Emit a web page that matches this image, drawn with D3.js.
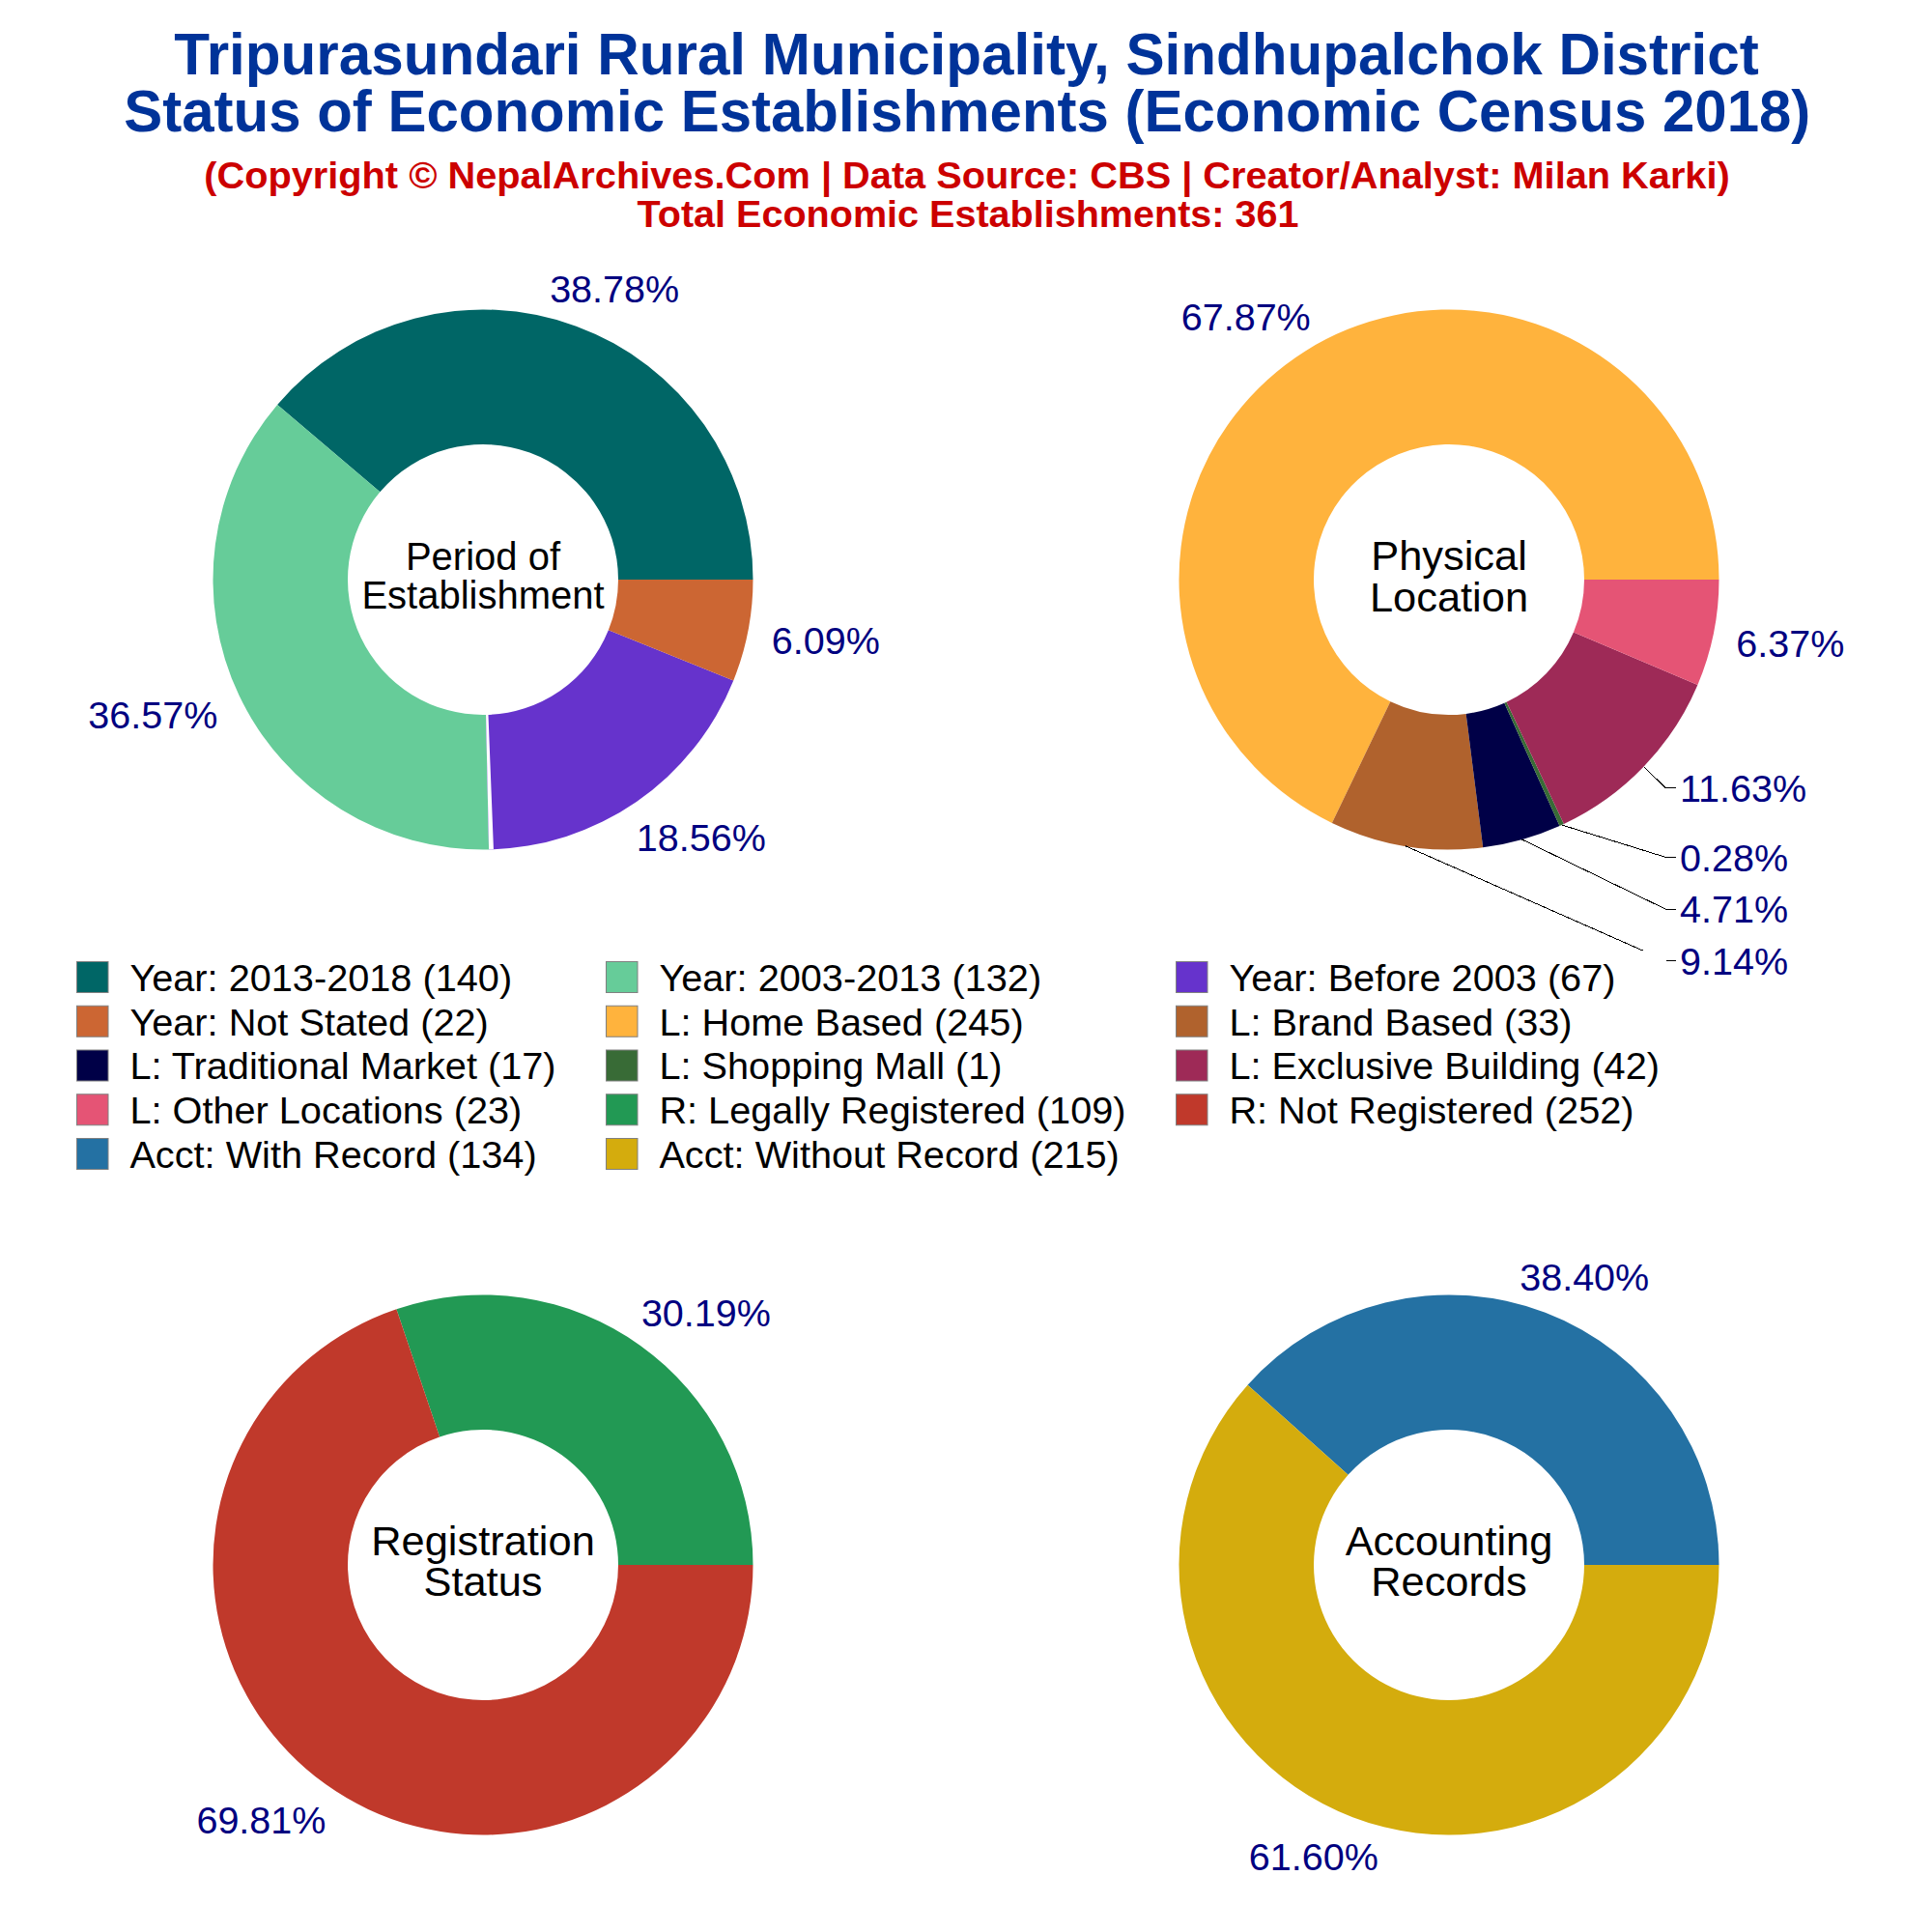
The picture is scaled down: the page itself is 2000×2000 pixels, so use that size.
<!DOCTYPE html>
<html><head><meta charset="utf-8">
<script src="https://cdn.jsdelivr.net/npm/d3@7"></script>
<style>html,body{margin:0;padding:0;background:#fff}svg{display:block}text{font-family:"Liberation Sans",Arial,sans-serif}</style>
</head><body><div id="chart"></div>
<script>
// ---- data ----
const periodCategories = ["Year: 2013-2018","Year: 2003-2013","Year: Before 2003","Year: Not Stated"];
const periodValues = [140,132,67,22];
const periodColors = ["#006666","#66CC99","#6633CC","#CC6633"];
const locationCategories = ["L: Home Based","L: Brand Based","L: Traditional Market","L: Shopping Mall","L: Exclusive Building","L: Other Locations"];
const locationValues = [245,33,17,1,42,23];
const locationColors = ["#FFB33D","#B0622D","#000047","#386B36","#9E2A57","#E55475"];
const registrationCategories = ["R: Legally Registered","R: Not Registered"];
const registrationValues = [109,252];
const registrationColors = ["#229954","#C0392B"];
const accountCategories = ["Acct: With Record","Acct: Without Record"];
const accountValues = [134,215];
const accountColors = ["#2471A3","#D4AC0D"];
const titleLines = ["Tripurasundari Rural Municipality, Sindhupalchok District","Status of Economic Establishments (Economic Census 2018)"];
const subtitleLines = ["(Copyright \u00A9 NepalArchives.Com | Data Source: CBS | Creator/Analyst: Milan Karki)","Total Economic Establishments: 361"];

// ---- layout ----
const W = 2000, H = 2000, R = 279.5, r0 = 140;
const panels = [
 {cats:periodCategories, vals:periodValues, cols:periodColors, cx:500, cy:600, center:["Period of","Establishment"], fs:40, base:[590,630],
  nudge:[[30,-13],[-64,8],[51,14],[53,4]], gapAfter:1},
 {cats:locationCategories, vals:locationValues, cols:locationColors, cx:1500, cy:600, center:["Physical","Location"], fs:43.4, base:[590,632.5],
  nudge:[[-46.6,-11.5],null,null,null,null,[52,5]], leaders:{1:994.3,2:941,3:887.3,4:815.3}},
 {cats:registrationCategories, vals:registrationValues, cols:registrationColors, cx:500, cy:1620, center:["Registration","Status"], fs:43.4, base:[1610,1652],
  nudge:[[51.7,-11.5],[-50.4,14]]},
 {cats:accountCategories, vals:accountValues, cols:accountColors, cx:1500, cy:1620, center:["Accounting","Records"], fs:43.4, base:[1610,1652],
  nudge:[[30.6,-11.3],[-30.6,15]]}
];
const svg = d3.select("#chart").append("svg").attr("width",W).attr("height",H).attr("viewBox",`0 0 ${W} ${H}`);
svg.append("rect").attr("width",W).attr("height",H).attr("fill","#fff");

// titles
const titleFit = [{x:1000.5,y:76.7,len:1640.5},{x:1001.3,y:136,len:1746}];
const subFit = [{x:1001,y:195.3,len:1579.5},{x:1002,y:234.5,len:685}];
svg.selectAll(".t").data(titleLines).join("text").attr("class","t")
 .attr("x",(d,i)=>titleFit[i].x).attr("y",(d,i)=>titleFit[i].y)
 .attr("textLength",(d,i)=>titleFit[i].len).attr("lengthAdjust","spacingAndGlyphs")
 .attr("text-anchor","middle").attr("font-size",60.3).attr("font-weight","bold").attr("fill","#003399").text(d=>d);
svg.selectAll(".s").data(subtitleLines).join("text").attr("class","s")
 .attr("x",(d,i)=>subFit[i].x).attr("y",(d,i)=>subFit[i].y)
 .attr("textLength",(d,i)=>subFit[i].len).attr("lengthAdjust","spacingAndGlyphs")
 .attr("text-anchor","middle").attr("font-size",39.7).attr("font-weight","bold").attr("fill","#CC0000").text(d=>d);

// donuts
const pie = d3.pie().sort(null).startAngle(Math.PI/2).endAngle(Math.PI/2-2*Math.PI);
const arc = d3.arc().innerRadius(r0).outerRadius(R);
const LBL = "#000080";
panels.forEach(p=>{
 const g = svg.append("g").attr("transform",`translate(${p.cx},${p.cy})`);
 const total = d3.sum(p.vals);
 const arcs = pie(p.vals);
 g.selectAll("path").data(arcs).join("path").attr("d",arc).attr("fill",(d,i)=>p.cols[i]);
 if(p.gapAfter!==undefined){
  // the reference leaves a hairline wedge of background between these two slices
  const a = arcs[p.gapAfter].endAngle;
  g.append("path").attr("d",arc({startAngle:a,endAngle:a-2*Math.PI/total})).attr("fill","#fff");
 }
 arcs.forEach((d,i)=>{
  const mid = (d.startAngle+d.endAngle)/2;
  const ux = Math.sin(mid), uy = -Math.cos(mid);
  const txt = (d.value/total*100).toFixed(2)+"%";
  if(p.leaders && p.leaders[i]!==undefined){
   const ly = p.leaders[i]-p.cy;
   g.append("polyline").attr("fill","none").attr("stroke","#000").attr("stroke-width",1).attr("shape-rendering","crispEdges")
    .attr("points",[[ux*R,uy*R],[224,ly],[235,ly]].map(q=>q.join(",")).join(" "));
   g.append("text").attr("x",239).attr("y",ly).attr("dy","0.36em").attr("font-size",39.5).attr("fill",LBL).text(txt);
  } else {
   const n = p.nudge[i];
   g.append("text").attr("x",ux*R*1.1+n[0]).attr("y",uy*R*1.1+n[1]).attr("dy","0.36em")
    .attr("text-anchor","middle").attr("font-size",39.5).attr("fill",LBL).text(txt);
  }
 });
 p.center.forEach((t,i)=>{
  svg.append("text").attr("x",p.cx).attr("y",p.base[i]).attr("text-anchor","middle")
   .attr("font-size",p.fs).attr("fill","#000").text(t);
 });
});

// legend
const legendItems = panels.flatMap(p=>p.cats.map((c,i)=>({name:`${c} (${p.vals[i]})`,color:p.cols[i]})));
svg.append("rect").attr("x",60).attr("y",984).attr("width",1665).attr("height",252).attr("fill","#fff");
const colSwatch = d3.scaleOrdinal().domain([0,1,2]).range([79,627,1217]);
const rowY = d3.scaleLinear().domain([0,4]).range([1011.5,1194.5]);
const lg = svg.selectAll(".lg").data(legendItems).join("g").attr("class","lg")
 .attr("transform",(d,i)=>`translate(${colSwatch(i%3)},${rowY(Math.floor(i/3))})`);
lg.append("rect").attr("x",0.5).attr("y",-16).attr("width",32.5).attr("height",32).attr("fill",d=>d.color).attr("stroke","#808080").attr("stroke-width",1);
lg.append("text").attr("x",55.4).attr("dy","0.36em").attr("font-size",39.7).attr("fill","#000").text(d=>d.name);
</script></body></html>
